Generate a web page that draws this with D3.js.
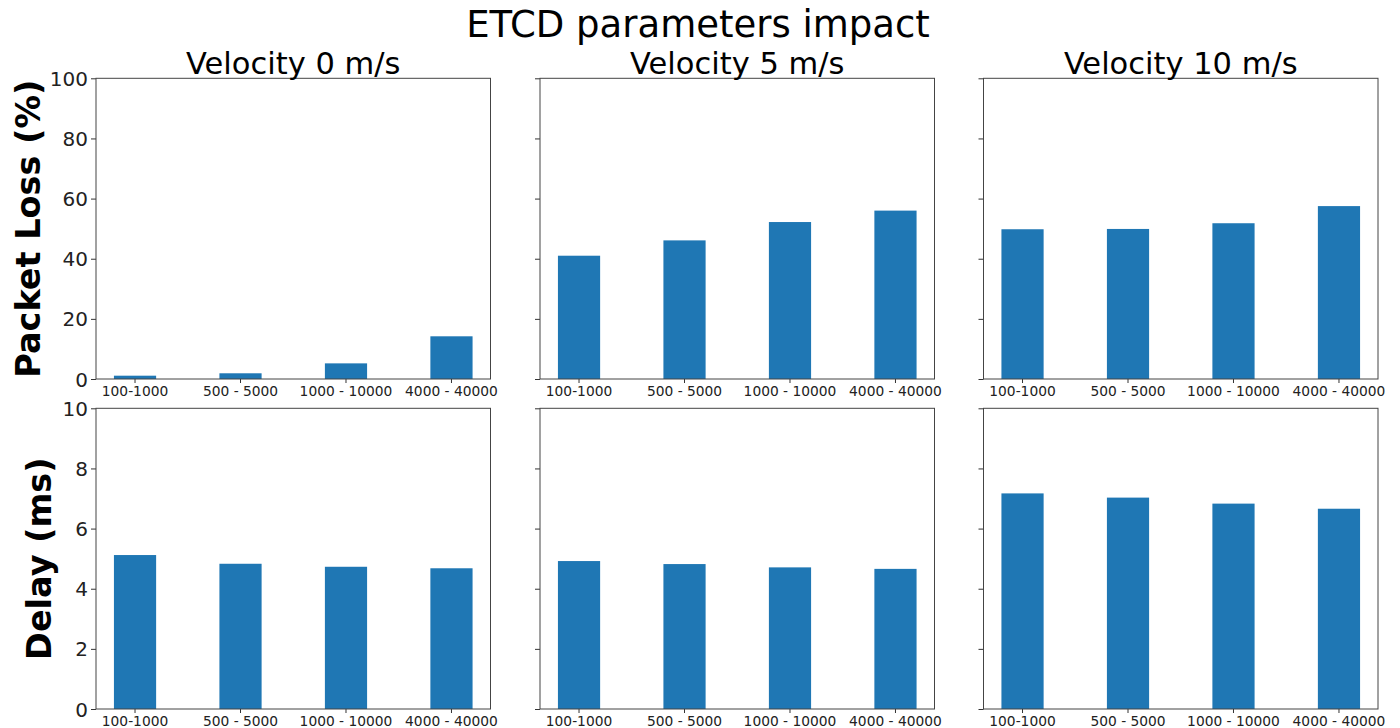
<!DOCTYPE html>
<html>
<head>
<meta charset="utf-8">
<script src="https://cdn.jsdelivr.net/npm/d3@7"></script>
<style>
  body { margin: 0; background: #fff; }
  svg, svg text { font-family: "DejaVu Sans", sans-serif; }
</style>
</head>
<body>
<div id="chart"></div>
<script>
// Data
const categories = ["100-1000", "500 - 5000", "1000 - 10000", "4000 - 40000"];
const velocities = ["Velocity 0 m/s", "Velocity 5 m/s", "Velocity 10 m/s"];

const lossV0 = [1.1, 1.9, 5.2, 14.2];
const lossV5 = [41.0, 46.1, 52.2, 56.0];
const lossV10 = [49.8, 49.9, 51.8, 57.5];

const delayV0 = [5.12, 4.83, 4.73, 4.68];
const delayV5 = [4.92, 4.82, 4.71, 4.66];
const delayV10 = [7.17, 7.03, 6.83, 6.66];

const lossTicks = [0, 20, 40, 60, 80, 100];
const delayTicks = [0, 2, 4, 6, 8, 10];

const rows = [
    { label: "Packet Loss (%)", max: 100, ticks: lossTicks, series: [lossV0, lossV5, lossV10], labelX: 40 },
    { label: "Delay (ms)", max: 10, ticks: delayTicks, series: [delayV0, delayV5, delayV10], labelX: 51 }
];

const width = 1400, height = 728;
const colLeft = [96, 540, 983.5];
const panelW = 394.5;
const rowTop = [78.3, 408.3];
const panelH = 300.7;
const font = "DejaVu Sans, sans-serif";

const svg = d3.select("#chart").append("svg").attr("width", width).attr("height", height);

// Figure title
svg.append("text").attr("x", 698).attr("y", 37).attr("text-anchor", "middle")
    .style("font-size", "37px").attr("fill", "#000").text("ETCD parameters impact");

rows.forEach((row, r) => {
    const top = rowTop[r], bottom = top + panelH;
    const y = d3.scaleLinear().domain([0, row.max]).range([bottom, top]);

    velocities.forEach((vel, c) => {
        const left = colLeft[c], right = left + panelW;
        const x = d3.scaleBand().domain(categories).range([left, right])
            .paddingInner(0.6).paddingOuter(0.17);
        const g = svg.append("g");
        const values = row.series[c];

        // bars
        g.selectAll("rect").data(values).enter().append("rect")
            .attr("x", (d, i) => x(categories[i]))
            .attr("y", d => y(d))
            .attr("width", x.bandwidth())
            .attr("height", d => bottom - y(d))
            .attr("fill", "#1f77b4");

        // y axis
        const yAxis = g.append("g").attr("transform", `translate(${left},0)`)
            .call(d3.axisLeft(y).tickValues(row.ticks).tickSize(5).tickPadding(3)
                .tickFormat(c === 0 ? d3.format("d") : () => ""));
        yAxis.attr("font-family", font);
        yAxis.select(".domain").remove();
        yAxis.selectAll("line").attr("stroke", "#333");
        yAxis.selectAll("text").style("font-size", "20px").attr("fill", "#222").attr("dy", "0.35em");

        // x axis
        const xAxis = g.append("g").attr("transform", `translate(0,${bottom})`)
            .call(d3.axisBottom(x).tickSize(4).tickPadding(3));
        xAxis.attr("font-family", font);
        xAxis.select(".domain").remove();
        xAxis.selectAll("line").attr("stroke", "#333");
        xAxis.selectAll("text").style("font-size", "13.8px").attr("fill", "#222");

        // frame
        g.append("rect").attr("x", left).attr("y", top).attr("width", panelW).attr("height", panelH)
            .attr("fill", "none").attr("stroke", "#444").attr("stroke-width", 1);

        // subplot title on top row
        if (r === 0) {
            g.append("text").attr("x", left + panelW / 2).attr("y", 74).attr("text-anchor", "middle")
                .style("font-size", "30.5px").attr("fill", "#000").text(vel);
        }
    });

    // row label
    svg.append("text")
        .attr("transform", `translate(${row.labelX},${top + panelH / 2}) rotate(-90)`)
        .attr("text-anchor", "middle")
        .style("font-size", "33.5px").style("font-weight", "bold").attr("fill", "#000")
        .text(row.label);
});
</script>
</body>
</html>
